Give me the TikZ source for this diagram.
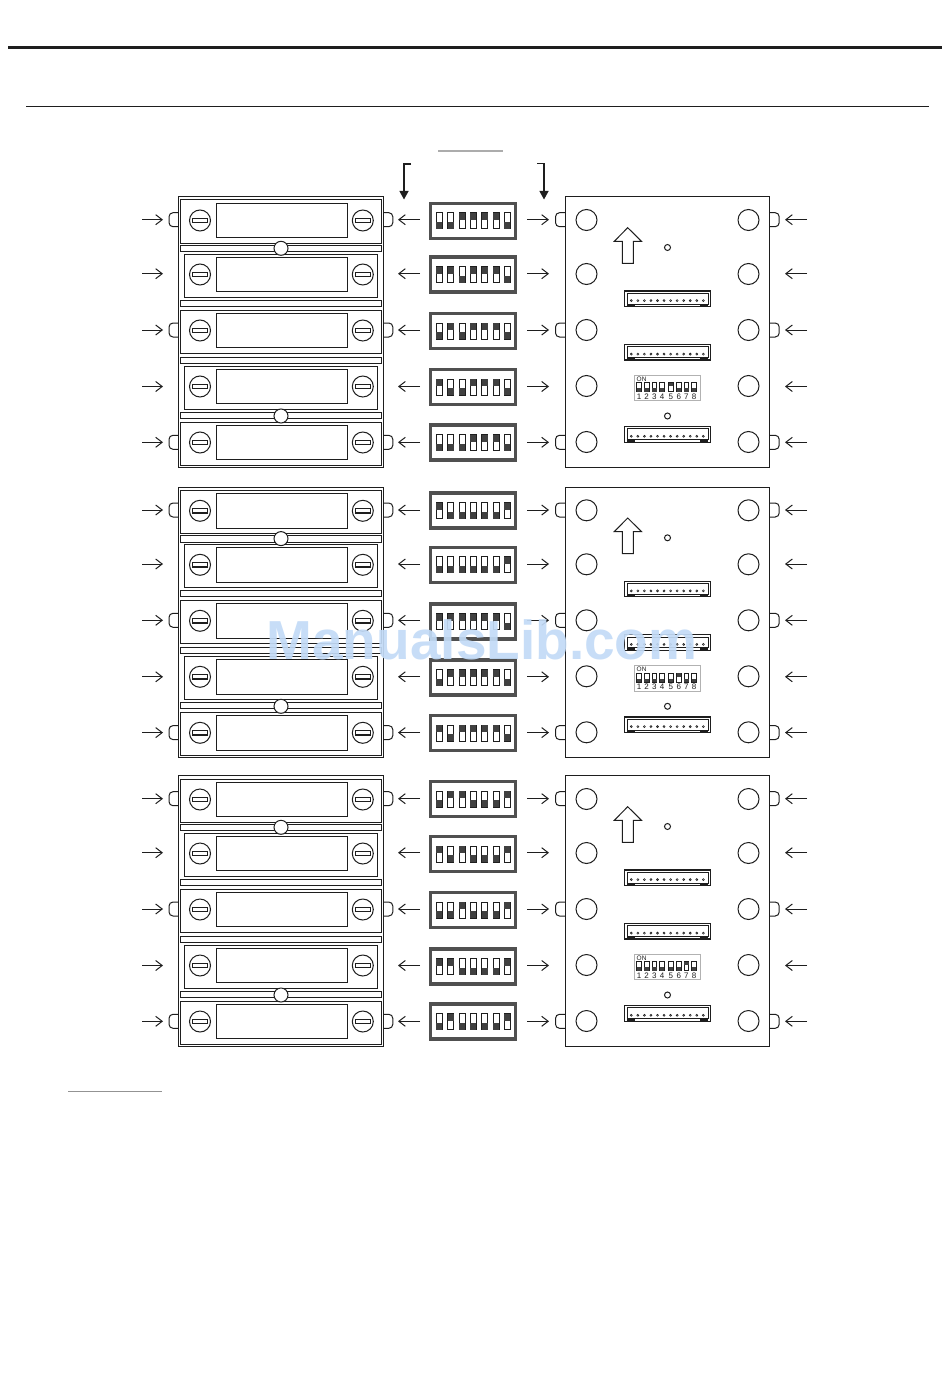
\documentclass[tikz,border=0pt]{standalone}
\usepackage{fontspec}
\setmainfont{Liberation Sans}
\usetikzlibrary{arrows.meta}
\definecolor{ink}{HTML}{1E1E1E}
\definecolor{dipgray}{HTML}{505050}
\definecolor{wm}{HTML}{C3DBF7}
\tikzset{
  thinln/.style={draw=ink,line width=1pt},
  openarr/.style={draw=ink,line width=1pt,-{Straight Barb[length=6.5pt,width=10pt,line width=1pt]}},
  bigarr/.style={draw=ink,line width=1.2pt,-{Triangle[length=8.5pt,width=9pt]}},
  dipframe/.style={draw=dipgray,line width=3.2pt,fill=white},
}
% switch: #1 cx, #2 top, #3 bottom, #4 half-width, #5 U/D
\newcommand{\swt}[5]{%
  \draw[ink,line width=.9pt] (#1-#4,#2) rectangle (#1+#4,#3);
  \if#5U\fill[dipgray!80!black] (#1-#4,#2) rectangle (#1+#4,{(#2+#3)/2-1});
  \else\fill[dipgray!80!black] (#1-#4,{(#2+#3)/2+1}) rectangle (#1+#4,#3);\fi}
% large dip: #1 row centre y, #2..#8 states
\newcommand{\bigdip}[8]{%
  \draw[dipframe] (430.5,#1-17.5) rectangle (515.5,#1+17.5);
  \swt{439.3}{#1-8}{#1+8}{3}{#2}\swt{450.6}{#1-8}{#1+8}{3}{#3}
  \swt{462}{#1-8}{#1+8}{3}{#4}\swt{473.3}{#1-8}{#1+8}{3}{#5}
  \swt{484.7}{#1-8}{#1+8}{3}{#6}\swt{496.2}{#1-8}{#1+8}{3}{#7}
  \swt{507.4}{#1-8}{#1+8}{3}{#8}}
% module: #1 row y, #2 inset
\newcommand{\module}[2]{%
  \draw[thinln,fill=white] (180+#2,#1-20.5) rectangle (381.5-#2,#1+22.7);
  \draw[thinln,fill=white] (216.3,#1-17.2) rectangle (347.7,#1+17.2);
  \foreach \sx in {200,362.8}{
    \draw[thinln] (\sx,#1) circle (10.5);
    \draw[ink,line width=1.2pt] (\sx-7.7,#1-2.2) rectangle (\sx+7.7,#1+2.2);}}
\newcommand{\lefttab}[2]{\draw[thinln,rounded corners=4pt] (#1,#2-7) -- (#1-9.5,#2-7) -- (#1-9.5,#2+7) -- (#1,#2+7);}
\newcommand{\righttab}[2]{\draw[thinln,rounded corners=4pt] (#1,#2-7) -- (#1+9.5,#2-7) -- (#1+9.5,#2+7) -- (#1,#2+7);}
% connector: #1 top y
\newcommand{\conn}[1]{%
  \draw[ink,line width=1.1pt] (624.5,#1) rectangle (710.5,#1+15.5);
  \draw[thinln] (627,#1+2.2) -- (627,#1+13) -- (708.2,#1+13) -- (708.2,#1+2.2) -- cycle;
  \draw[ink,line width=1.4pt] (627,#1+14.2) -- (635,#1+14.2) (700,#1+14.2) -- (708.2,#1+14.2);
  \foreach \k in {0,...,11}{\draw[ink,line width=.6pt,fill=white] (631.3+\k*6.55,#1+9.6) circle (1);}}
% small dip: #1 y offset, #2 index of the switch that is up
\newcommand{\smalldip}[2]{%
  \draw[gray!60,line width=1pt,fill=white] (634.3,375+#1) rectangle (700.3,400.7+#1);
  \node[font=\fontsize{6.5}{6.5}\selectfont,text=ink,inner sep=0pt,anchor=west] (on#2) at (636.5,379.3+#1) {ON};
  \foreach \n/\cx in {1/639,2/646.7,3/654.3,4/662,5/670.8,6/678.8,7/686.3,8/694}{
    \ifnum\n=#2\relax\swt{\cx}{382.7+#1}{391.7+#1}{2.3}{U}\else\swt{\cx}{382.7+#1}{391.7+#1}{2.3}{D}\fi
    \node[font=\fontsize{8}{8}\selectfont,text=ink,inner sep=0pt] (n#2\n) at (\cx,396.4+#1) {\n};}}
% board: #1 y offset, #2 up switch
\newcommand{\board}[2]{%
  \draw[thinln] (565,196.7+#1) rectangle (769.7,467.3+#1);
  \foreach \yy in {220,274,330,386,442}{
    \draw[thinln] (586.5,\yy+#1) circle (10.5);
    \draw[thinln] (748.5,\yy+#1) circle (10.5);}
  \draw[thinln,fill=white] (627.7,227.7+#1) -- (641.5,241.3+#1) -- (633.3,241.3+#1) -- (633.3,263.3+#1) -- (622.3,263.3+#1) -- (622.3,241.3+#1) -- (614.3,241.3+#1) -- cycle;
  \draw[thinln] (667.5,247.5+#1) circle (3);
  \draw[thinln] (667.5,416+#1) circle (3);
  \conn{291+#1}\conn{344.5+#1}\conn{426.7+#1}
  \smalldip{#1}{#2}}
% left stack: #1 y offset
\newcommand{\stackblock}[1]{%
  \draw[thinln] (178.5,196.7+#1) rectangle (383.3,467.3+#1);
  \foreach \ba/\bb in {245.3/251.7,300.3/306.3,357/363,412/418.3}
    {\draw[thinln] (180,\ba+#1) rectangle (381.5,\bb+#1);}
  \module{220.5+#1}{0}\module{274.5+#1}{4.3}\module{330.5+#1}{0}\module{386.5+#1}{4.3}\module{442.5+#1}{0}
  \draw[thinln,fill=white] (281,248.3+#1) circle (7);
  \draw[thinln,fill=white] (281,416+#1) circle (7);}
% all arrows and tabs of a block: #1 y offset
\newcommand{\rowdeco}[1]{%
  \foreach \yy/\tabbed in {219.7/1,273.7/0,330/1,386.5/0,442.3/1}{
    \coordinate (la) at (142,\yy+#1); \coordinate (lb) at (163,\yy+#1);
    \coordinate (ma) at (420,\yy+#1); \coordinate (mb) at (398,\yy+#1);
    \coordinate (na) at (527,\yy+#1); \coordinate (nb) at (549,\yy+#1);
    \coordinate (ra) at (807,\yy+#1); \coordinate (rb) at (785,\yy+#1);
    \draw[openarr] (la) -- (lb);
    \draw[openarr] (ma) -- (mb);
    \draw[openarr] (na) -- (nb);
    \draw[openarr] (ra) -- (rb);
    \ifnum\tabbed=1\relax
      \lefttab{178.5}{\yy+#1}\righttab{383.3}{\yy+#1}
      \lefttab{565}{\yy+#1}\righttab{769.7}{\yy+#1}
    \fi}}
\begin{document}
\begin{tikzpicture}[x=1pt,y=-1pt]
\useasboundingbox (0,0) rectangle (950,1388);
\fill[white] (0,0) rectangle (950,1388);
\coordinate (r1a) at (8,48); \coordinate (r1b) at (942,48);
\draw[ink,line width=3pt] (r1a) -- (r1b);
\coordinate (r2a) at (26,106.5); \coordinate (r2b) at (929,106.5);
\draw[ink,line width=.9pt] (r2a) -- (r2b);
\coordinate (g1a) at (438,151); \coordinate (g1b) at (503,151);
\draw[gray!65,line width=1.4pt] (g1a) -- (g1b);
\coordinate (g2a) at (68,1091); \coordinate (g2b) at (162,1091);
\draw[gray!85,line width=.9pt] (g2a) -- (g2b);
\coordinate (b1a) at (411,164); \coordinate (b1c) at (404,164); \coordinate (b1b) at (404,199.5);
\draw[bigarr] (b1a) -- (b1c) -- (b1b);
\coordinate (b2a) at (537,163.5); \coordinate (b2c) at (544,163.5); \coordinate (b2b) at (544,199.5);
\draw[bigarr] (b2a) -- (b2c) -- (b2b);

\rowdeco{0}\rowdeco{290.3}\rowdeco{579}
\stackblock{0}\stackblock{290.3}\stackblock{579}
\board{0}{5}\board{290.3}{6}\board{579}{7}

\bigdip{220.8}DDUUUUD
\bigdip{274.5}UUDUUUD
\bigdip{331}DUDUUUD
\bigdip{387.3}UDDUUUD
\bigdip{442.5}DDDUUUD
\bigdip{510.5}UDDDDDU
\bigdip{564.7}DDDDDDU
\bigdip{621.5}UUUUUUD
\bigdip{677.5}DUUUUUD
\bigdip{733}UDUUUUD
\bigdip{799}DUUDDDU
\bigdip{854}UDUDDDU
\bigdip{910}DDUDDDU
\bigdip{966.5}UUDDDDU
\bigdip{1021.5}DUDDDDU

\node[font=\bfseries\fontsize{55}{55}\selectfont,text=wm,opacity=.92,inner sep=0pt] (watermark) at (482,640) {ManualsLib.com};
\end{tikzpicture}
\end{document}
